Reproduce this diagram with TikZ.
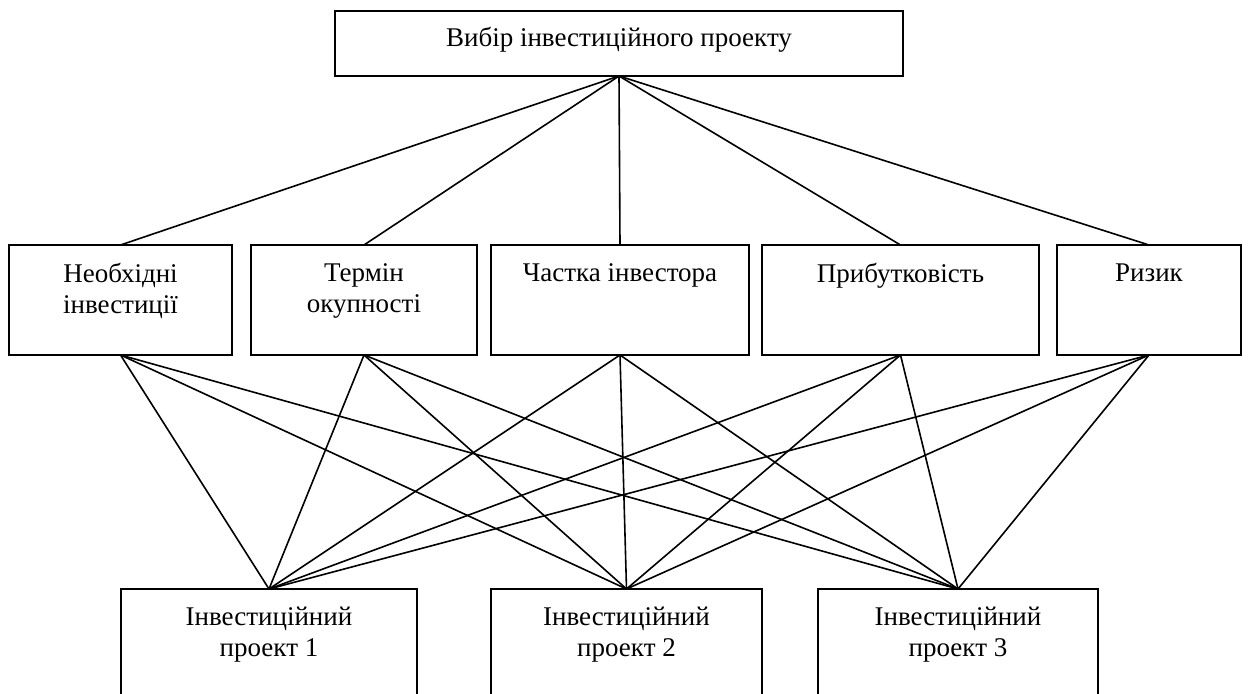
\documentclass[tikz,border=0pt]{standalone}
\usepackage{fontspec}
\setmainfont{Liberation Serif}
\begin{document}
\begin{tikzpicture}[x=0.5pt,y=-0.5pt,
  box/.style={draw=black,line width=0.9pt,rectangle,inner sep=0pt,outer sep=0pt,anchor=north west},
  lbl/.style={inner sep=0pt,align=center,anchor=north,font=\fontsize{13.5}{15.5}\selectfont},
  link/.style={draw=black,line width=0.8pt}]
\clip (0,0) rectangle (1252,694);
\fill[white] (0,0) rectangle (1252,694);
% top
\node[box,minimum width=284pt,minimum height=32.5pt] (top) at (335,11) {};
\node[lbl] (ttop) at (619,27) {Вибір інвестиційного проекту};
% middle
\node[box,minimum width=111.5pt,minimum height=55pt] (m1) at (9,245) {};
\node[box,minimum width=113pt,minimum height=55pt] (m2) at (251,245) {};
\node[box,minimum width=129pt,minimum height=55pt] (m3) at (491,245) {};
\node[box,minimum width=138.5pt,minimum height=55pt] (m4) at (762,245) {};
\node[box,minimum width=92pt,minimum height=55pt] (m5) at (1057,245) {};
\node[lbl] (tm1) at (120.5,263) {Необхідні\\інвестиції};
\node[lbl] (tm2) at (364,263) {Термін\\окупності};
\node[lbl] (tm3) at (620,263) {Частка інвестора};
\node[lbl] (tm4) at (900.5,263) {Прибутковість};
\node[lbl] (tm5) at (1149,263) {Ризик};
% bottom
\node[box,minimum width=148pt,minimum height=70pt] (b1) at (121,589) {};
\node[box,minimum width=135.5pt,minimum height=70pt] (b2) at (491,589) {};
\node[box,minimum width=140pt,minimum height=70pt] (b3) at (818,589) {};
\node[lbl] (tb1) at (269,607) {Інвестиційний\\проект 1};
\node[lbl] (tb2) at (626.5,607) {Інвестиційний\\проект 2};
\node[lbl] (tb3) at (958,607) {Інвестиційний\\проект 3};
% links top -> middle
\foreach \m in {m1,m2,m3,m4,m5} \draw[link] (top.south) -- (\m.north);
% links middle -> bottom
\foreach \m in {m1,m2,m3,m4,m5}
  \foreach \b in {b1,b2,b3}
    \draw[link] (\m.south) -- (\b.north);
\end{tikzpicture}
\end{document}
